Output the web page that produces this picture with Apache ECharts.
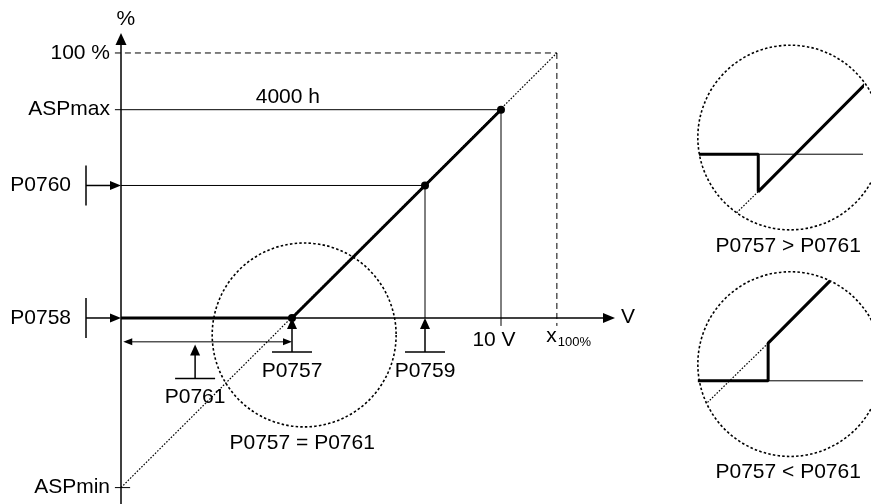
<!DOCTYPE html>
<html>
<head>
<meta charset="utf-8">
<script src="https://cdn.jsdelivr.net/npm/echarts@6/dist/echarts.min.js"></script>
<style>
  html, body { margin: 0; padding: 0; background: #fff; }
  #chart { width: 871px; height: 504px; }
</style>
</head>
<body>
<div id="chart"></div>
<script>
// Analog input characteristic: input voltage (V) against setpoint (%)
const curveX = [0, 4.5, 8, 10];            // P0757, P0759, 10 V
const curveY = [0, 0, 50, 78.6];           // P0758, P0760, ASPmax
const levelNames = ['100 %', 'ASPmax', 'ASPmin'];
const levelValues = [100, 78.6, -64];
const voltNames = ['10 V', 'x100%'];
const voltValues = [10, 11.47];
const upMarkerNames = ['P0757', 'P0759', 'P0761'];
const upMarkerX = [4.5, 8, 1.95];
const upMarkerY = [0, 0, -10];
const sideMarkerNames = ['P0760', 'P0758'];
const sideMarkerY = [50, 0];
const deadbandX = [0.06, 4.5];             // width of P0761
const deadbandY = [-9, -9];
const axisNames = ['%', '4000 h', 'V'];
const axisNameX = [0.13, 4.39, 13.34];
const axisNameY = [112.8, 83.5, 0.4];
// detail views of the dead band
const circleNames = ['P0757 = P0761', 'P0757 > P0761', 'P0757 < P0761'];
const circleX = [4.82, 17.61, 17.61];
const circleY = [-6.4, 68.1, -17.4];
const circleR = [2.42, 2.43, 2.43];
const gtStepX = [15.21, 16.77, 16.77, 19.58];
const gtStepY = [61.8, 61.8, 47.7, 88.2];
const gtDotted = [16.2, 39.7];
const ltStepX = [15.18, 17.03, 17.03, 18.66];
const ltStepY = [-23.7, -23.7, -9.5, 14.0];
const ltDotted = [15.41, -32.2];

const INK = '#000';
const FONT = '"Liberation Sans", Arial, Helvetica, sans-serif';
const STUB = 0.16;   // short tick left of the % axis
const DOTS = [1.6, 1.6];

const pts = (xs, ys) => xs.map((x, i) => [x, ys[i]]);

function segment(points, width, dash) {
  return {
    type: 'line', data: points, symbol: 'none', showSymbol: false,
    clip: false, silent: true, animation: false, z: 2,
    lineStyle: { color: INK, width: width, type: dash || 'solid' }
  };
}

function txt(s, x, y, align, size) {
  return {
    type: 'text',
    style: {
      text: s, x: x, y: y,
      align: align, textAlign: align,
      verticalAlign: 'middle', textVerticalAlign: 'middle',
      font: (size || 21) + 'px ' + FONT, fill: INK
    }
  };
}

function arrowShape(a, b, o) {
  const dx = b[0] - a[0], dy = b[1] - a[1];
  const L = Math.hypot(dx, dy), ux = dx / L, uy = dy / L;
  const head = (t, ux, uy) => ({
    type: 'polygon',
    shape: { points: [
      [t[0], t[1]],
      [t[0] - ux * o.len - uy * o.half, t[1] - uy * o.len + ux * o.half],
      [t[0] - ux * o.len + uy * o.half, t[1] - uy * o.len - ux * o.half]
    ] },
    style: { fill: INK }
  });
  const s = o.both ? [a[0] + ux * o.len * 0.5, a[1] + uy * o.len * 0.5] : a;
  const e = [b[0] - ux * o.len * 0.5, b[1] - uy * o.len * 0.5];
  const kids = [
    { type: 'line', shape: { x1: s[0], y1: s[1], x2: e[0], y2: e[1] },
      style: { stroke: INK, lineWidth: o.width } },
    head(b, ux, uy)
  ];
  if (o.both) kids.push(head(a, -ux, -uy));
  return { type: 'group', children: kids };
}

function arrowSeries(data, o) {
  return {
    type: 'custom', data: data, clip: false, silent: true, animation: false, z: 4,
    renderItem: function (params, api) {
      const a = api.coord([api.value(0), api.value(1)]);
      const b = api.coord([api.value(2), api.value(3)]);
      return arrowShape(a, b, o);
    }
  };
}

const series = [];

// reference lines
series.push(segment([[-STUB, levelValues[0]], [voltValues[1], levelValues[0]]], 1, [6, 4]));
series.push(segment([[voltValues[1], levelValues[0]], [voltValues[1], -3]], 1, [6, 4]));
series.push(segment([[-STUB, curveY[3]], [curveX[3], curveY[3]]], 1));
series.push(segment([[0, curveY[2]], [curveX[2], curveY[2]]], 1));
series.push(segment([[curveX[3], curveY[3]], [curveX[3], -3]], 1));
series.push(segment([[curveX[2], curveY[2]], [curveX[2], 0]], 1));
series.push(segment([[-STUB, levelValues[2]], [STUB * 1.5, levelValues[2]]], 1));
series.push(segment([[0, levelValues[2]], [voltValues[1], levelValues[0]]], 1.2, DOTS));

// characteristic
series.push({
  type: 'line',
  data: pts(curveX, curveY).map((p, i) => i === 0 ? { value: p, symbol: 'none' } : p),
  symbol: 'circle', symbolSize: 8, showSymbol: true,
  itemStyle: { color: INK }, lineStyle: { color: INK, width: 3 },
  clip: false, silent: true, animation: false, z: 6
});

// axes
series.push(arrowSeries([[0, -72, 0, 107.5]], { len: 12, half: 5.5, width: 1.5 }));
series.push(arrowSeries([[0, 0, 13, 0]], { len: 12, half: 5, width: 1.5 }));
// dead band P0761
series.push(arrowSeries([[deadbandX[0], deadbandY[0], deadbandX[1], deadbandY[1]]],
  { len: 9, half: 3.5, width: 1, both: true }));

// parameter markers below the V axis
series.push({
  type: 'custom', clip: false, silent: true, animation: false, z: 5,
  data: upMarkerX.map((x, i) => [x, upMarkerY[i], i]),
  renderItem: function (params, api) {
    const t = api.coord([api.value(0), api.value(1)]);
    const base = t[1] + 34;
    return { type: 'group', children: [
      { type: 'line', shape: { x1: t[0], y1: base, x2: t[0], y2: t[1] + 8 },
        style: { stroke: INK, lineWidth: 1.5 } },
      { type: 'polygon', shape: { points: [[t[0], t[1]], [t[0] - 5, t[1] + 11], [t[0] + 5, t[1] + 11]] },
        style: { fill: INK } },
      { type: 'line', shape: { x1: t[0] - 20, y1: base, x2: t[0] + 20, y2: base },
        style: { stroke: INK, lineWidth: 1.5 } },
      txt(upMarkerNames[api.value(2)], t[0], base + 19, 'center')
    ] };
  }
});

// parameter markers left of the % axis
series.push({
  type: 'custom', clip: false, silent: true, animation: false, z: 5,
  data: sideMarkerY.map((y, i) => [0, y, i]),
  renderItem: function (params, api) {
    const t = api.coord([api.value(0), api.value(1)]);
    const bx = t[0] - 35;
    return { type: 'group', children: [
      { type: 'line', shape: { x1: bx, y1: t[1], x2: t[0] - 8, y2: t[1] },
        style: { stroke: INK, lineWidth: 1.5 } },
      { type: 'polygon', shape: { points: [[t[0], t[1]], [t[0] - 11, t[1] - 4.5], [t[0] - 11, t[1] + 4.5]] },
        style: { fill: INK } },
      { type: 'line', shape: { x1: bx, y1: t[1] - 20, x2: bx, y2: t[1] + 20 },
        style: { stroke: INK, lineWidth: 1.5 } },
      txt(sideMarkerNames[api.value(2)], bx - 15, t[1], 'right')
    ] };
  }
});

// level labels on the % axis
series.push({
  type: 'custom', clip: false, silent: true, animation: false, z: 5,
  data: levelValues.map((y, i) => [0, y, i]),
  renderItem: function (params, api) {
    const t = api.coord([api.value(0), api.value(1)]);
    return txt(levelNames[api.value(2)], t[0] - 11, t[1], 'right');
  }
});

// voltage labels on the V axis
series.push({
  type: 'custom', clip: false, silent: true, animation: false, z: 5,
  data: voltValues.map((x, i) => [x, 0, i]),
  renderItem: function (params, api) {
    const t = api.coord([api.value(0), api.value(1)]);
    const i = api.value(2);
    if (i === 0) return txt(voltNames[0], t[0] - 7, t[1] + 22, 'center');
    return { type: 'group', children: [
      txt(voltNames[1].charAt(0), t[0] - 10.5, t[1] + 18, 'left'),
      txt(voltNames[1].slice(1), t[0] + 1, t[1] + 24, 'left', 13)
    ] };
  }
});

// axis names and annotation
series.push({
  type: 'custom', clip: false, silent: true, animation: false, z: 5,
  data: axisNameX.map((x, i) => [x, axisNameY[i], i]),
  renderItem: function (params, api) {
    const t = api.coord([api.value(0), api.value(1)]);
    return txt(axisNames[api.value(2)], t[0], t[1], 'center');
  }
});

// detail circles
series.push({
  type: 'custom', clip: false, silent: true, animation: false, z: 3,
  data: circleX.map((x, i) => [x, circleY[i], circleR[i], i]),
  renderItem: function (params, api) {
    const c = api.coord([api.value(0), api.value(1)]);
    const r = api.size([api.value(2), 0])[0];
    return { type: 'group', children: [
      { type: 'circle', shape: { cx: c[0], cy: c[1], r: r },
        style: { fill: 'none', stroke: INK, lineWidth: 1.6, lineDash: [2.5, 2.2] } },
      txt(circleNames[api.value(3)], c[0] - 2, c[1] + r + 16, 'center')
    ] };
  }
});

// detail: P0757 > P0761
series.push(segment(pts(gtStepX, gtStepY), 3));
series.push(segment([[gtStepX[1], gtStepY[1]], [20, gtStepY[1]]], 1));
series.push(segment([[gtStepX[2], gtStepY[2]], gtDotted], 1.2, DOTS));
// detail: P0757 < P0761
series.push(segment(pts(ltStepX, ltStepY), 3));
series.push(segment([[ltStepX[1], ltStepY[1]], [20, ltStepY[1]]], 1));
series.push(segment([[ltStepX[2], ltStepY[2]], ltDotted], 1.2, DOTS));

const chart = echarts.init(document.getElementById('chart'), null, { renderer: 'canvas' });
chart.setOption({
  animation: false,
  backgroundColor: '#fff',
  grid: { left: 7, right: 9, top: 33.1, bottom: 0.5, containLabel: false, outerBoundsMode: 'none' },
  xAxis: { type: 'value', min: -3, max: 19.5, show: false },
  yAxis: { type: 'value', min: -70, max: 107.5, show: false },
  series: series
});
</script>
</body>
</html>
